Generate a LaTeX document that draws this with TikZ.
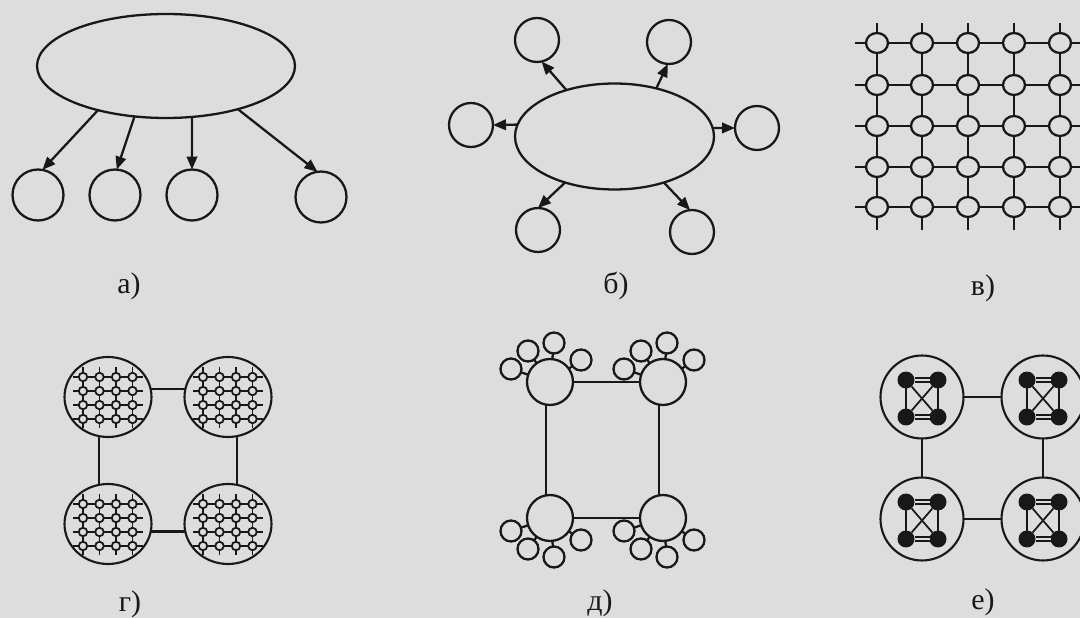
\documentclass[tikz,border=0pt]{standalone}
\usepackage{fontspec}
\setmainfont{Liberation Serif}
\usetikzlibrary{arrows.meta,shapes.geometric}
\definecolor{paper}{RGB}{221,221,221}
\definecolor{ink}{RGB}{24,24,24}
\begin{document}
\begin{tikzpicture}[x=0.02cm,y=-0.02cm,
  every node/.style={inner sep=0pt, outer sep=0pt},
  ln/.style={draw=ink, line width=1.3pt},
  arr/.style={ln, -{Triangle[length=2.6mm,width=2.1mm]}},
  oval/.style={ellipse, ln},
  ring/.style={circle, ln},
  knot/.style={ellipse, ln, minimum width=0.44cm, minimum height=0.40cm},
  cluster/.style={ellipse, draw=ink, line width=1.2pt, minimum width=1.74cm, minimum height=1.60cm},
  tiny/.style={circle, draw=ink, line width=1pt, minimum size=0.17cm},
  thin/.style={draw=ink, line width=1pt},
  dot/.style={circle, fill=ink, minimum size=0.34cm},
  twin/.style={draw=ink, line width=0.8pt, double=paper, double distance=1.6pt},
  lab/.style={font=\fontsize{17pt}{20pt}\selectfont, text=ink}]

\path[use as bounding box, fill=paper] (0,0) rectangle (1080,618);
\clip (0,0) rectangle (1080,618);

% ---------- a) one server, four clients ----------
\node[oval, minimum width=5.16cm, minimum height=2.08cm] (A) at (166,66) {};
\foreach \k/\x/\y in {1/38/195, 2/115/195, 3/192/195, 4/321/197}
  \node[ring, minimum size=1.02cm] (a\k) at (\x,\y) {};
\draw[arr] (A.213) -- (a1.80);
\draw[arr] (A.238) -- (a2.86);
\draw[arr] (A.297) -- (a3.90);
\draw[arr] (A.329) -- (a4.98);
\node[lab] (la) at (129,286) {а)};

% ---------- b) star ----------
\node[oval, minimum width=3.98cm, minimum height=2.12cm] (B) at (614.5,136.5) {};
\foreach \k/\x/\y in {tl/537/40, tr/669/42, l/471/125, r/757/128, bl/538/230, br/692/232}
  \node[ring, minimum size=0.88cm] (b\k) at (\x,\y) {};
\draw[arr] (B.136) -- (btl.282);
\draw[arr] (B.49)  -- (btr.267);
\draw[arr] (B.173) -- (bl.0);
\draw[arr] (B.5)   -- (br.180);
\draw[arr] (B.223) -- (bbl.90);
\draw[arr] (B.317) -- (bbr.95);
\node[lab] (lb) at (616,286) {б)};

% ---------- v) mesh ----------
\foreach \i/\y in {1/43, 2/85, 3/126, 4/167, 5/207}
  \foreach \j/\x in {1/877, 2/922, 3/968, 4/1014, 5/1060}
    \node[knot] (v-\i-\j) at (\x,\y) {};
\foreach \i in {1,...,5}{
  \foreach \j [evaluate=\j as \k using int(\j+1)] in {1,...,4}{
    \draw[ln] (v-\i-\j) -- (v-\i-\k);
    \draw[ln] (v-\j-\i) -- (v-\k-\i);
  }
  \draw[ln] (v-\i-1.west) -- ++(-11,0);
  \draw[ln] (v-\i-5.east) -- ++(20,0);
  \draw[ln] (v-1-\i.north) -- ++(0,-10);
  \draw[ln] (v-5-\i.south) -- ++(0,13);
}
\node[lab] (lv) at (983,288) {в)};

% ---------- g) four clusters of meshes ----------
\foreach \n/\cx/\cy in {TL/108/397, TR/228/397, BL/108/524, BR/228/524}{
  \node[cluster] (g\n) at (\cx,\cy) {};
  \foreach \i/\dy in {1/-20, 2/-6, 3/8, 4/22}
    \foreach \j/\dx in {1/-25, 2/-8.5, 3/8, 4/24.5}
      \node[tiny] (g\n-\i-\j) at ({\cx+\dx},{\cy+\dy}) {};
  \foreach \i in {1,...,4}{
    \foreach \j [evaluate=\j as \k using int(\j+1)] in {1,2,3}{
      \draw[thin] (g\n-\i-\j) -- (g\n-\i-\k);
      \draw[thin] (g\n-\j-\i) -- (g\n-\k-\i);
    }
    \draw[thin] (g\n-\i-1.west) -- ++(-6,0);
    \draw[thin] (g\n-\i-4.east) -- ++(6,0);
    \draw[thin] (g\n-1-\i.north) -- ++(0,-6);
    \draw[thin] (g\n-4-\i.south) -- ++(0,5);
  }
}
\draw[ln] (gTL.11)  -- (gTR.169);
\draw[ln] (gTL.257) -- (gBL.103);
\draw[ln] (gTR.283) -- (gBR.77);
\draw[ln] (gBL.350) -- (gBR.190);
\node[lab] (lg) at (130,604) {г)};

% ---------- d) ring of stars ----------
\foreach \n/\cx/\cy/\s in {TL/550/382/-1, TR/663/382/-1, BL/550/518/1, BR/663/518/1}{
  \node[ring, minimum size=0.92cm] (d\n) at (\cx,\cy) {};
  \foreach \k/\dx/\dy in {1/-39/13, 2/-22/31, 3/4/39, 4/31/22}{
    \node[ring, minimum size=0.42cm] (d\n-\k) at ({\cx+\dx},{\cy+\s*\dy}) {};
    \draw[ln] (d\n) -- (d\n-\k);
  }
}
\draw[ln] (dTL) -- (dTR);
\draw[ln] (dBL) -- (dBR);
\draw[ln] (dTL.260) -- (dBL.100);
\draw[ln] (dTR.260) -- (dBR.100);
\node[lab] (ld) at (600,603) {д)};

% ---------- e) ring of fully connected groups ----------
\foreach \n/\cx/\cy in {TL/922/397, TR/1043/397, BL/922/519, BR/1043/519}{
  \node[ring, line width=1.2pt, minimum size=1.66cm] (e\n) at (\cx,\cy) {};
  \node[dot] (e\n-a) at ({\cx-16},{\cy-17}) {};
  \node[dot] (e\n-b) at ({\cx+16},{\cy-17}) {};
  \node[dot] (e\n-c) at ({\cx-16},{\cy+20}) {};
  \node[dot] (e\n-d) at ({\cx+16},{\cy+20}) {};
  \draw[twin] (e\n-a) -- (e\n-b);
  \draw[twin] (e\n-c) -- (e\n-d);
  \draw[ln] (e\n-a) -- (e\n-c);
  \draw[ln] (e\n-b) -- (e\n-d);
  \draw[thin] (e\n-a) -- (e\n-d);
  \draw[thin] (e\n-b) -- (e\n-c);
}
\draw[ln] (eTL) -- (eTR);
\draw[ln] (eBL) -- (eBR);
\draw[ln] (eTL) -- (eBL);
\draw[ln] (eTR) -- (eBR);
\node[lab] (le) at (983,602) {е)};
\end{tikzpicture}
\end{document}
